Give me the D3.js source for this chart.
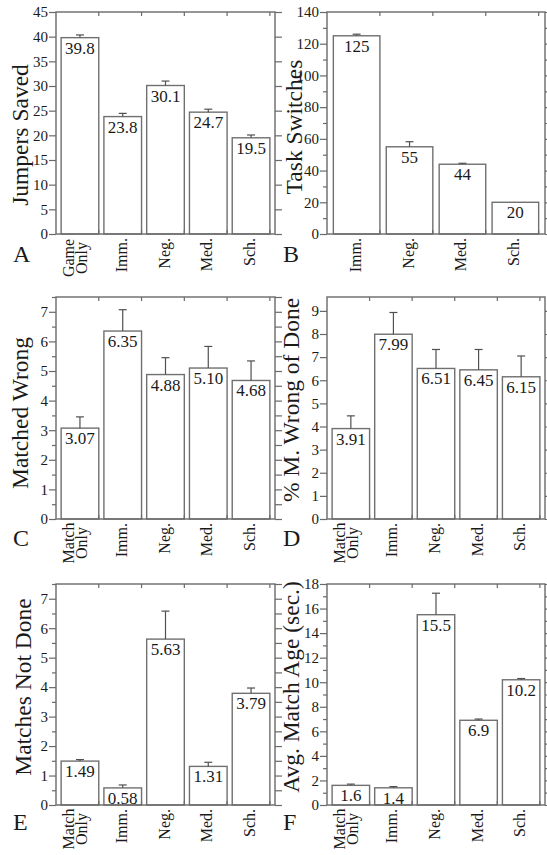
<!DOCTYPE html>
<html><head><meta charset="utf-8">
<script src="https://cdn.jsdelivr.net/npm/d3@7"></script>
<style>
body{margin:0;background:#fff}
svg{display:block}
text{font-family:"Liberation Serif","Times New Roman",serif;fill:#1a1a1a}
</style>
</head><body>
<svg id="chart" width="547" height="855"></svg>
<script>
// ---------------- DATA ----------------
const catsGame  = ["Game Only", "Imm.", "Neg.", "Med.", "Sch."];
const catsTask  = ["Imm.", "Neg.", "Med.", "Sch."];
const catsMatch = ["Match Only", "Imm.", "Neg.", "Med.", "Sch."];

const jumpersSaved     = [39.8, 23.8, 30.1, 24.7, 19.5];
const jumpersSavedErr  = [0.55, 0.65, 0.9, 0.6, 0.57];

const taskSwitches     = [125, 55, 44, 20];
const taskSwitchesErr  = [1.0, 3.2, 0.6, 0];

const matchedWrong     = [3.07, 6.35, 4.88, 5.10, 4.68];
const matchedWrongErr  = [0.38, 0.72, 0.57, 0.73, 0.66];

const pctWrongDone     = [3.91, 7.99, 6.51, 6.45, 6.15];
const pctWrongDoneErr  = [0.55, 0.94, 0.82, 0.88, 0.90];

const matchesNotDone    = [1.49, 0.58, 5.63, 1.31, 3.79];
const matchesNotDoneErr = [0.05, 0.10, 0.95, 0.14, 0.18];

const avgMatchAge      = [1.6, 1.4, 15.5, 6.9, 10.2];
const avgMatchAgeErr   = [0.1, 0.1, 1.75, 0.1, 0.1];

const ticksA = [0, 5, 10, 15, 20, 25, 30, 35, 40, 45];
const ticksB = [0, 20, 40, 60, 80, 100, 120, 140];
const minorB = [10, 30, 50, 70, 90, 110, 130];
const ticksC = [0, 1, 2, 3, 4, 5, 6, 7];
const minorC = [0.5, 1.5, 2.5, 3.5, 4.5, 5.5, 6.5, 7.5];
const ticksD = [0, 1, 2, 3, 4, 5, 6, 7, 8, 9];
const ticksE = [0, 1, 2, 3, 4, 5, 6, 7];
const minorE = [0.5, 1.5, 2.5, 3.5, 4.5, 5.5, 6.5, 7.5];
const ticksF = [0, 2, 4, 6, 8, 10, 12, 14, 16, 18];
const minorF = [1, 3, 5, 7, 9, 11, 13, 15, 17];

const panels = [
  {letter:"A", title:"Jumpers Saved", cats:catsGame, values:jumpersSaved, errs:jumpersSavedErr, yMax:45, ticks:ticksA, minor:[], fmt:".1f"},
  {letter:"B", title:"Task Switches", cats:catsTask, values:taskSwitches, errs:taskSwitchesErr, yMax:140, ticks:ticksB, minor:minorB, fmt:".0f"},
  {letter:"C", title:"Matched Wrong", cats:catsMatch, values:matchedWrong, errs:matchedWrongErr, yMax:7.5, ticks:ticksC, minor:minorC, fmt:".2f"},
  {letter:"D", title:"% M. Wrong of Done", cats:catsMatch, values:pctWrongDone, errs:pctWrongDoneErr, yMax:9.6, ticks:ticksD, minor:[], fmt:".2f"},
  {letter:"E", title:"Matches Not Done", cats:catsMatch, values:matchesNotDone, errs:matchesNotDoneErr, yMax:7.5, ticks:ticksE, minor:minorE, fmt:".2f"},
  {letter:"F", title:"Avg. Match Age (sec.)", cats:catsMatch, values:avgMatchAge, errs:avgMatchAgeErr, yMax:18, ticks:ticksF, minor:minorF, fmt:".1f"}
];

// ---------------- LAYOUT ----------------
const layout = {
  A:{x0:56,  x1:275, y0:12,  y1:234, titleX:28,  titleY:135, letterX:13,  letterY:262},
  B:{x0:327, x1:545, y0:12,  y1:234, titleX:302, titleY:127, letterX:283, letterY:262},
  C:{x0:56,  x1:275, y0:297, y1:519, titleX:28,  titleY:413, letterX:13,  letterY:546},
  D:{x0:327, x1:545, y0:297, y1:519, titleX:299, titleY:400, letterX:283, letterY:546},
  E:{x0:56,  x1:275, y0:584, y1:805, titleX:31,  titleY:687, letterX:13,  letterY:830},
  F:{x0:327, x1:545, y0:584, y1:805, titleX:299, titleY:687, letterX:283, letterY:830}
};

const frameColor = "#6a6a6a";
const barStroke = "#707070";
const errColor = "#505050";

const svg = d3.select("#chart");

panels.forEach(p => {
  const L = layout[p.letter];
  const g = svg.append("g");
  const x = d3.scaleBand().domain(p.cats).range([L.x0, L.x1]).paddingInner(0.12).paddingOuter(0.12);
  const y = d3.scaleLinear().domain([0, p.yMax]).range([L.y1, L.y0]);
  const data = p.cats.map((c,i) => ({c, v:p.values[i], e:p.errs[i]}));
  const fmt = d3.format(p.fmt);

  // bars
  g.selectAll("rect.bar").data(data).join("rect")
    .attr("x", d => x(d.c)).attr("width", x.bandwidth())
    .attr("y", d => y(d.v)).attr("height", d => y(0) - y(d.v))
    .attr("fill", "#fff").attr("stroke", barStroke).attr("stroke-width", 1.4);

  // error bars
  const eb = data.filter(d => d.e > 0);
  g.selectAll("line.err").data(eb).join("line")
    .attr("x1", d => x(d.c) + x.bandwidth()/2).attr("x2", d => x(d.c) + x.bandwidth()/2)
    .attr("y1", d => y(d.v)).attr("y2", d => y(d.v + d.e))
    .attr("stroke", errColor).attr("stroke-width", 1.2);
  g.selectAll("line.cap").data(eb).join("line")
    .attr("x1", d => x(d.c) + x.bandwidth()/2 - 4).attr("x2", d => x(d.c) + x.bandwidth()/2 + 4)
    .attr("y1", d => y(d.v + d.e)).attr("y2", d => y(d.v + d.e))
    .attr("stroke", errColor).attr("stroke-width", 1.2);

  // value labels
  g.selectAll("text.val").data(data).join("text")
    .attr("x", d => x(d.c) + x.bandwidth()/2)
    .attr("y", d => y(d.v) + 16)
    .attr("text-anchor", "middle").attr("font-size", 17)
    .text(d => fmt(d.v));

  // frame
  g.append("rect").attr("x", L.x0).attr("y", L.y0)
    .attr("width", L.x1 - L.x0).attr("height", L.y1 - L.y0)
    .attr("fill", "none").attr("stroke", frameColor).attr("stroke-width", 1.4);

  // left axis
  const left = g.append("g").attr("transform", `translate(${L.x0},0)`)
    .call(d3.axisLeft(y).tickValues(p.ticks).tickSize(7).tickPadding(1).tickFormat(d3.format("d")));
  left.select(".domain").remove();
  left.selectAll(".tick line").attr("stroke", frameColor).attr("stroke-width", 1.2);
  left.selectAll(".tick text").attr("font-size", 15).attr("font-family", "Liberation Serif, serif").attr("fill", "#1a1a1a");
  if (p.minor.length) {
    const lm = g.append("g").attr("transform", `translate(${L.x0},0)`)
      .call(d3.axisLeft(y).tickValues(p.minor).tickSize(4).tickFormat(""));
    lm.select(".domain").remove();
    lm.selectAll(".tick line").attr("stroke", frameColor).attr("stroke-width", 1.2);
  }
  // right axis (outward ticks, no labels)
  const right = g.append("g").attr("transform", `translate(${L.x1},0)`)
    .call(d3.axisRight(y).tickValues(p.ticks.concat(p.minor)).tickSize(7).tickFormat(""));
  right.select(".domain").remove();
  right.selectAll(".tick line").attr("stroke", frameColor).attr("stroke-width", 1.2);

  // top and bottom inward ticks at category centers
  const top = g.append("g").attr("transform", `translate(${x.bandwidth()/2},${L.y0})`)
    .call(d3.axisBottom(x).tickSize(4).tickFormat(""));
  top.select(".domain").remove();
  top.selectAll(".tick line").attr("stroke", frameColor).attr("stroke-width", 1.2);
  const bottom = g.append("g").attr("transform", `translate(${x.bandwidth()/2},${L.y1})`)
    .call(d3.axisTop(x).tickSize(4).tickFormat(""));
  bottom.select(".domain").remove();
  bottom.selectAll(".tick line").attr("stroke", frameColor).attr("stroke-width", 1.2);

  // category labels (rotated)
  data.forEach(d => {
    const cx = x(d.c) + x.bandwidth()/2;
    const lines = d.c.split(" ");
    const t = g.append("text")
      .attr("transform", `translate(${cx},${L.y1 + 4}) rotate(-90)`)
      .attr("font-size", 16);
    if (lines.length === 1) {
      t.attr("text-anchor", "end").append("tspan").attr("x", 0).attr("y", 4).text(lines[0]);
    } else {
      t.attr("text-anchor", "middle");
      const maxLen = 40;
      t.append("tspan").attr("x", -maxLen/2).attr("y", -6).text(lines[0]);
      t.append("tspan").attr("x", -maxLen/2).attr("y", 7.5).text(lines[1]);
    }
  });

  // y title
  g.append("text")
    .attr("transform", `translate(${L.titleX},${L.titleY}) rotate(-90)`)
    .attr("text-anchor", "middle").attr("font-size", 23.5)
    .text(p.title);

  // panel letter
  g.append("text").attr("x", L.letterX).attr("y", L.letterY)
    .attr("font-size", 24).text(p.letter);
});
</script>
</body></html>
